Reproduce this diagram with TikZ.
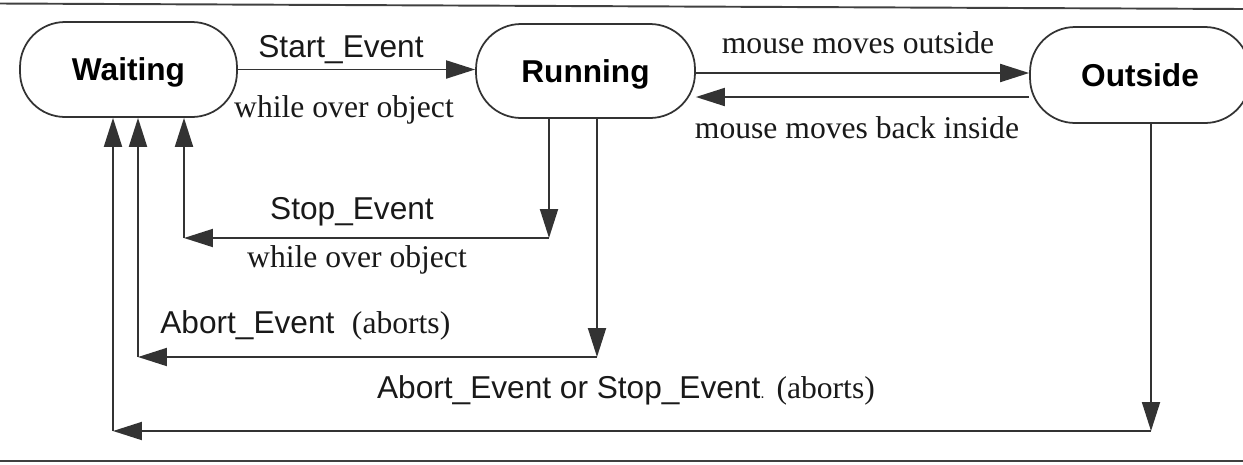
\documentclass[tikz,border=0pt]{standalone}
\usepackage{fontspec}
\setmainfont{Liberation Serif}
\setsansfont{Liberation Sans}
\usetikzlibrary{arrows.meta,calc}
\begin{document}
\begin{tikzpicture}[x=0.02cm,y=-0.02cm,
  state/.style={draw=black!80, line width=1pt, rounded corners=0.9cm,
    inner sep=0pt, text depth=0pt,
    font=\sffamily\bfseries\fontsize{18}{22}\selectfont},
  arr/.style={draw=black!80, line width=1.1pt,
    -{Triangle[length=0.58cm,width=0.36cm]}},
  sflab/.style={font=\sffamily\fontsize{18}{22}\selectfont, inner sep=0pt, anchor=base, text=black!90},
  rmlab/.style={font=\rmfamily\fontsize{18}{22}\selectfont, inner sep=0pt, anchor=base, text=black!90},
  rule/.style={draw=black!75, line width=1.1pt}
]
\useasboundingbox (0,0) rectangle (1243,464);

% rules
\draw[rule] (0,3.5) -- (1243,9);
\draw[rule] (0,461) -- (1243,461);

% states
\node[state, minimum width=4.34cm, minimum height=1.9cm] (W) at (128.5,69.5) {Waiting};
\node[state, minimum width=4.38cm, minimum height=1.88cm] (R) at (585.5,71) {Running};
\node[state, minimum width=4.4cm, minimum height=1.92cm] (O) at (1140,75) {Outside};

% helper coordinates
\coordinate (b1) at ($(O.west)+(0,22)$);
\coordinate (f1) at ($(R.east)+(0,2)$);
\coordinate (s1) at (549,238);
\coordinate (s2) at (184,238);
\coordinate (a1) at (597,357);
\coordinate (a2) at (138,357);
\coordinate (o1) at (1151,431);
\coordinate (o2) at (113,431);

% connectors
\draw[arr] (W.east) -- (W.east -| R.west);
\draw[arr] (f1) -- (f1 -| O.west);
\draw[arr] (b1) -- (b1 -| R.east);

\draw[arr] (R.south -| s1) -- (s1);
\draw[arr] (s1) -- (s2);
\draw[arr] (s2) -- (W.south -| s2);

\draw[arr] (R.south -| a1) -- (a1);
\draw[arr] (a1) -- (a2);
\draw[arr] (a2) -- (W.south -| a2);

\draw[arr] (O.south -| o1) -- (o1);
\draw[arr] (o1) -- (o2);
\draw[arr] (o2) -- (W.south -| o2);

% labels
\node[sflab] (l1) at (341,57) {Start\_Event};
\node[rmlab] (l2) at (344,117) {while over object};
\node[rmlab] (l3) at (858,53) {mouse moves outside};
\node[rmlab] (l4) at (857,138) {mouse moves back inside};
\node[sflab] (l5) at (352,219.5) {Stop\_Event};
\node[rmlab] (l6) at (357,267) {while over object};
\node[sflab, anchor=base west] (l7) at (160,333) {Abort\_Event\ \ {\rmfamily(aborts)}};
\node[sflab] (l8) at (626,398) {Abort\_Event or Stop\_Event{\fontsize{9}{9}\selectfont.} {\rmfamily(aborts)}};
\end{tikzpicture}
\end{document}
